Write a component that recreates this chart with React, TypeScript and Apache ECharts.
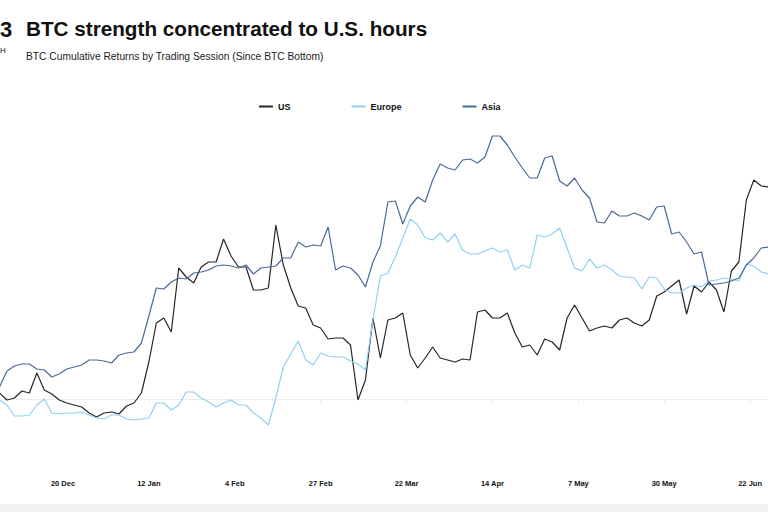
import { useEffect, useRef } from "react";
import * as echarts from "echarts";

const TITLE = "BTC strength concentrated to U.S. hours";
const SUBTITLE = "BTC Cumulative Returns by Trading Session (Since BTC Bottom)";
const SERIES_NAMES = ["US", "Europe", "Asia"];
const SERIES_COLORS = ["#262626", "#8fd1f2", "#4a6a96"];

const DATES = [
  "2022-12-03","2022-12-05","2022-12-07","2022-12-09","2022-12-11","2022-12-13","2022-12-15","2022-12-17","2022-12-19","2022-12-21","2022-12-23","2022-12-25","2022-12-27","2022-12-29","2022-12-31",
  "2023-01-02","2023-01-04","2023-01-06","2023-01-08","2023-01-10","2023-01-12","2023-01-14","2023-01-16","2023-01-18","2023-01-20","2023-01-22","2023-01-24","2023-01-26","2023-01-28","2023-01-30",
  "2023-02-01","2023-02-03","2023-02-05","2023-02-07","2023-02-09","2023-02-11","2023-02-13","2023-02-15","2023-02-17","2023-02-19","2023-02-21","2023-02-23","2023-02-25","2023-02-27",
  "2023-03-01","2023-03-03","2023-03-05","2023-03-07","2023-03-09","2023-03-11","2023-03-13","2023-03-15","2023-03-17","2023-03-19","2023-03-21","2023-03-23","2023-03-25","2023-03-27","2023-03-29","2023-03-31",
  "2023-04-02","2023-04-04","2023-04-06","2023-04-08","2023-04-10","2023-04-12","2023-04-14","2023-04-16","2023-04-18","2023-04-20","2023-04-22","2023-04-24","2023-04-26","2023-04-28","2023-04-30",
  "2023-05-02","2023-05-04","2023-05-06","2023-05-08","2023-05-10","2023-05-12","2023-05-14","2023-05-16","2023-05-18","2023-05-20","2023-05-22","2023-05-24","2023-05-26","2023-05-28","2023-05-30",
  "2023-06-01","2023-06-03","2023-06-05","2023-06-07","2023-06-09","2023-06-11","2023-06-13","2023-06-15","2023-06-17","2023-06-19","2023-06-21","2023-06-23","2023-06-25","2023-06-27",
];

const US = [
  6, -1, 1, 8, 6, 26, 9, 5, -1, -4,
  -6, -8, -14, -18, -14, -13, -15, -7, -4, 6,
  37, 76, 81, 67, 131, 122, 116, 132, 137, 137,
  160, 143, 132, 132, 109, 109, 111, 174, 134, 111,
  93, 91, 74, 71, 60, 61, 61, 54, -1, 19,
  81, 41, 79, 81, 86, 44, 31, 41, 52, 41,
  39, 37, 40, 39, 87, 89, 81, 81, 86, 66,
  52, 54, 44, 60, 57, 49, 81, 94, 81, 68,
  71, 73, 71, 79, 81, 76, 73, 79, 103, 107,
  113, 119, 85, 113, 107, 117, 109, 87, 128, 137,
  199, 219, 213, 212,
];

const EUROPE = [
  -1, -6, -17, -17, -16, -6, 0, -14, -15, -14,
  -14, -13, -16, -19, -20, -16, -16, -20, -21, -20,
  -19, -4, -4, -11, -6, 7, 7, 1, -3, -8,
  -4, -1, -6, -6, -14, -19, -26, 1, 32, 45,
  58, 39, 34, 46, 43, 42, 42, 38, 35, 29,
  79, 123, 126, 142, 161, 180, 174, 161, 159, 166,
  157, 165, 149, 145, 145, 148, 151, 147, 149, 129,
  134, 131, 164, 162, 165, 171, 151, 131, 128, 140,
  131, 134, 129, 123, 122, 121, 110, 122, 121, 110,
  106, 106, 111, 114, 112, 118, 119, 121, 120, 118,
  135, 133, 127, 125,
];

const ASIA = [
  12, 28, 33, 35, 35, 30, 29, 22, 25, 30,
  32, 34, 39, 39, 38, 36, 44, 46, 47, 56,
  83, 111, 110, 117, 121, 120, 126, 127, 129, 133,
  134, 133, 131, 134, 125, 131, 132, 133, 141, 141,
  157, 152, 154, 153, 172, 129, 133, 131, 124, 112,
  137, 153, 197, 198, 175, 193, 202, 197, 219, 235,
  231, 229, 239, 240, 236, 242, 263, 263, 254, 242,
  231, 221, 221, 241, 243, 218, 213, 221, 209, 201,
  177, 176, 188, 183, 183, 186, 183, 179, 192, 193,
  165, 167, 157, 145, 147, 114, 115, 116, 118, 121,
  134, 141, 151, 152,
];

const TICK_DATES = [
  "2022-12-20", "2023-01-12", "2023-02-04", "2023-02-27", "2023-03-22",
  "2023-04-14", "2023-05-07", "2023-05-30", "2023-06-22",
];
const MONTHS = ["Jan", "Feb", "Mar", "Apr", "May", "Jun", "Jul", "Aug", "Sep", "Oct", "Nov", "Dec"];

const FONT = "'Liberation Sans', Arial, Helvetica, sans-serif";
const NARROW = "'Liberation Sans Narrow', 'Arial Narrow', 'Liberation Sans', sans-serif";

function toTime(s: string): number {
  const [y, m, d] = s.split("-").map(Number);
  return new Date(y, m - 1, d).getTime();
}

const X_MIN = new Date(2022, 11, 3, 3, 13).getTime();
const X_MAX = new Date(2023, 5, 26, 19, 12).getTime();
const TICKS = TICK_DATES.map(toTime);

function fmt(v: number): string {
  const d = new Date(v);
  return `${d.getDate()} ${MONTHS[d.getMonth()]}`;
}

export default function App() {
  const ref = useRef<HTMLDivElement>(null);
  useEffect(() => {
    if (!ref.current) return;
    const chart = echarts.init(ref.current, null, { renderer: "svg" });
    const seriesData = [US, EUROPE, ASIA];
    chart.setOption({
      animation: false,
      backgroundColor: "#ffffff",
      textStyle: { fontFamily: FONT },
      title: [
        {
          text: TITLE,
          left: 26,
          top: 18,
          padding: 0,
          textStyle: { fontSize: 20.7, fontWeight: "bold", color: "#111111", fontFamily: FONT },
        },
        {
          text: SUBTITLE,
          left: 26,
          top: 51,
          padding: 0,
          textStyle: { fontSize: 10.25, fontWeight: "normal", color: "#222222", fontFamily: FONT },
        },
      ],
      graphic: [
        {
          type: "text",
          x: 0,
          y: 29,
          style: { text: "3", align: "left", verticalAlign: "middle", font: `bold 22px ${FONT}`, fill: "#111111" },
        },
        {
          type: "text",
          x: 0,
          y: 50,
          style: { text: "H", align: "left", verticalAlign: "middle", font: `8px ${FONT}`, fill: "#111111" },
        },
        {
          type: "rect",
          shape: { x: 0, y: 504, width: 768, height: 8 },
          style: { fill: "#f2f2f2" },
          silent: true,
        },
      ],
      legend: {
        left: 259,
        top: 102,
        itemGap: 61,
        itemWidth: 14,
        itemHeight: 2,
        icon: "rect",
        padding: 0,
        textStyle: { fontSize: 9, fontWeight: "bold", color: "#111111", fontFamily: FONT },
        data: SERIES_NAMES,
      },
      grid: { left: 0, right: 0, top: 129, bottom: 43, containLabel: false },
      xAxis: [
        {
          type: "value",
          position: "bottom",
          min: X_MIN,
          max: X_MAX,
          axisLine: { show: true, onZero: true, lineStyle: { color: "#ececec", width: 1 } },
          axisTick: { show: true, customValues: TICKS, length: 4, lineStyle: { color: "#ececec" } },
          axisLabel: { show: false },
          splitLine: { show: false },
        },
        {
          type: "value",
          position: "bottom",
          min: X_MIN,
          max: X_MAX,
          axisLine: { show: false, onZero: false },
          axisTick: { show: false },
          axisLabel: {
            show: true,
            customValues: TICKS,
            formatter: (v: number) => fmt(v),
            fontSize: 7.5,
            fontWeight: "bold",
            color: "#111111",
            fontFamily: NARROW,
            margin: 10,
          },
          splitLine: { show: false },
        },
      ],
      yAxis: {
        type: "value",
        show: false,
        min: -70,
        max: 270,
        splitLine: { show: false },
      },
      series: SERIES_NAMES.map((name, si) => ({
        name,
        type: "line",
        xAxisIndex: 0,
        showSymbol: false,
        symbol: "none",
        clip: true,
        color: SERIES_COLORS[si],
        lineStyle: { width: 1.2, color: SERIES_COLORS[si] },
        emphasis: { disabled: true },
        data: DATES.map((d, i) => [toTime(d), seriesData[si][i]]),
      })),
    });
    return () => chart.dispose();
  }, []);
  return (
    <div
      ref={ref}
      style={{ position: "fixed", left: 0, top: 0, width: 768, height: 512, background: "#ffffff" }}
    />
  );
}
